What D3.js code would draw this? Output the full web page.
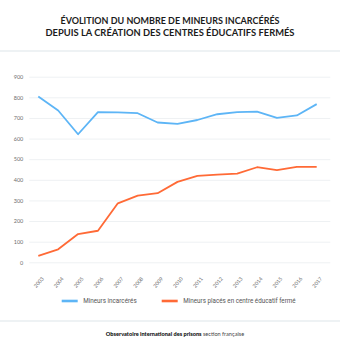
<!DOCTYPE html>
<html lang="fr">
<head>
    <meta charset="UTF-8">
    <title>Mineurs incarcérés</title>
    <script src="https://d3js.org/d3.v7.min.js"></script>
    <style>
        body { margin: 0; background: #fff; }
        svg { display: block; }
    </style>
</head>
<body>
<svg id="chart" width="340" height="340"></svg>
<script>
    const years = [2003, 2004, 2005, 2006, 2007, 2008, 2009, 2010, 2011, 2012, 2013, 2014, 2015, 2016, 2017];
    const incarceres = [804, 736, 621, 728, 727, 723, 678, 671, 690, 718, 728, 731, 700, 712, 767];
    const placesCef = [31, 63, 137, 153, 286, 323, 335, 390, 419, 425, 430, 461, 447, 463, 463];
    const yTicks = [0, 100, 200, 300, 400, 500, 600, 700, 800, 900];
    const titleLines = ["ÉVOLITION DU NOMBRE DE MINEURS INCARCÉRÉS", "DEPUIS LA CRÉATION DES CENTRES ÉDUCATIFS FERMÉS"];

    const BLUE = '#5db5f6';
    const ORANGE = '#ff6a36';
    const GRID = '#eef1f3';
    const svg = d3.select('#chart');

    // title
    svg.selectAll('.title')
        .data(titleLines)
        .enter()
        .append('text')
        .attr('class', 'title')
        .attr('x', 170)
        .attr('y', (d, i) => 24 + i * 12)
        .attr('text-anchor', 'middle')
        .attr('font-family', 'Lato, sans-serif')
        .attr('font-weight', 700)
        .attr('font-size', 8.6)
        .attr('fill', '#1c1c1c')
        .attr('textLength', (d, i) => i === 0 ? 219 : 249)
        .attr('lengthAdjust', 'spacingAndGlyphs')
        .text(d => d);

    svg.append('line').attr('x1', 0).attr('x2', 340).attr('y1', 51).attr('y2', 51)
        .attr('stroke', '#dde5e9').attr('stroke-width', 1);

    const x = d3.scaleLinear().domain([2003, 2017]).range([38.3, 316.7]);
    const y = d3.scaleLinear().domain([0, 900]).range([262.3, 76.7]);

    // grid + y labels
    const yaxis = d3.axisLeft(y).tickValues(yTicks).tickSize(-301).tickPadding(6);
    const gy = svg.append('g')
        .attr('transform', 'translate(29.3,0)')
        .call(yaxis);
    gy.select('.domain').remove();
    gy.selectAll('.tick line').attr('stroke', GRID).attr('stroke-width', 1);
    gy.selectAll('.tick text')
        .attr('font-family', 'Lato, sans-serif')
        .attr('font-size', 5.5)
        .attr('fill', '#6d6d6d');

    // x labels
    const xaxis = d3.axisBottom(x).tickValues(years).tickFormat(d3.format('d')).tickSize(0);
    const gx = svg.append('g')
        .attr('transform', 'translate(0,268)')
        .call(xaxis);
    gx.select('.domain').remove();
    gx.selectAll('.tick text')
        .attr('font-family', 'Lato, sans-serif')
        .attr('font-size', 5.2)
        .attr('fill', '#6d6d6d')
        .attr('text-anchor', 'end')
        .attr('dy', 0)
        .attr('transform', 'translate(3,9) rotate(-50)');

    const line = d3.line()
        .x((d, i) => x(years[i]))
        .y(d => y(d));

    svg.append('path')
        .datum(incarceres)
        .attr('fill', 'none')
        .attr('stroke', BLUE)
        .attr('stroke-width', 1.8)
        .attr('stroke-linejoin', 'round')
        .attr('d', line);

    svg.append('path')
        .datum(placesCef)
        .attr('fill', 'none')
        .attr('stroke', ORANGE)
        .attr('stroke-width', 1.8)
        .attr('stroke-linejoin', 'round')
        .attr('d', line);

    // legend
    const legend = [
        {label: 'Mineurs incarcérés', color: BLUE, x: 61.7, w: 53.5},
        {label: 'Mineurs placés en centre éducatif fermé', color: ORANGE, x: 161.7, w: 112.5}
    ];
    const lg = svg.selectAll('.legend')
        .data(legend)
        .enter()
        .append('g')
        .attr('class', 'legend')
        .attr('transform', d => `translate(${d.x},301)`);
    lg.append('line')
        .attr('x1', 0).attr('x2', 16)
        .attr('stroke', d => d.color)
        .attr('stroke-width', 2.6);
    lg.append('text')
        .attr('x', 21.5)
        .attr('y', 2.2)
        .attr('font-family', '"Liberation Sans Narrow", "Roboto", sans-serif')
        .attr('font-size', 6.6)
        .attr('fill', '#555')
        .attr('textLength', d => d.w)
        .attr('lengthAdjust', 'spacingAndGlyphs')
        .text(d => d.label);

    svg.append('line').attr('x1', 0).attr('x2', 340).attr('y1', 321).attr('y2', 321)
        .attr('stroke', '#dde5e9').attr('stroke-width', 1);

    // footer
    const foot = svg.append('text')
        .attr('x', 175)
        .attr('y', 336)
        .attr('text-anchor', 'middle')
        .attr('font-family', 'Lato, sans-serif')
        .attr('font-size', 5.6)
        .attr('fill', '#111');
    foot.append('tspan').attr('font-weight', 900).text('Observatoire international des prisons ');
    foot.append('tspan').attr('font-weight', 400).attr('fill', '#444').text('section française');
</script>
</body>
</html>
